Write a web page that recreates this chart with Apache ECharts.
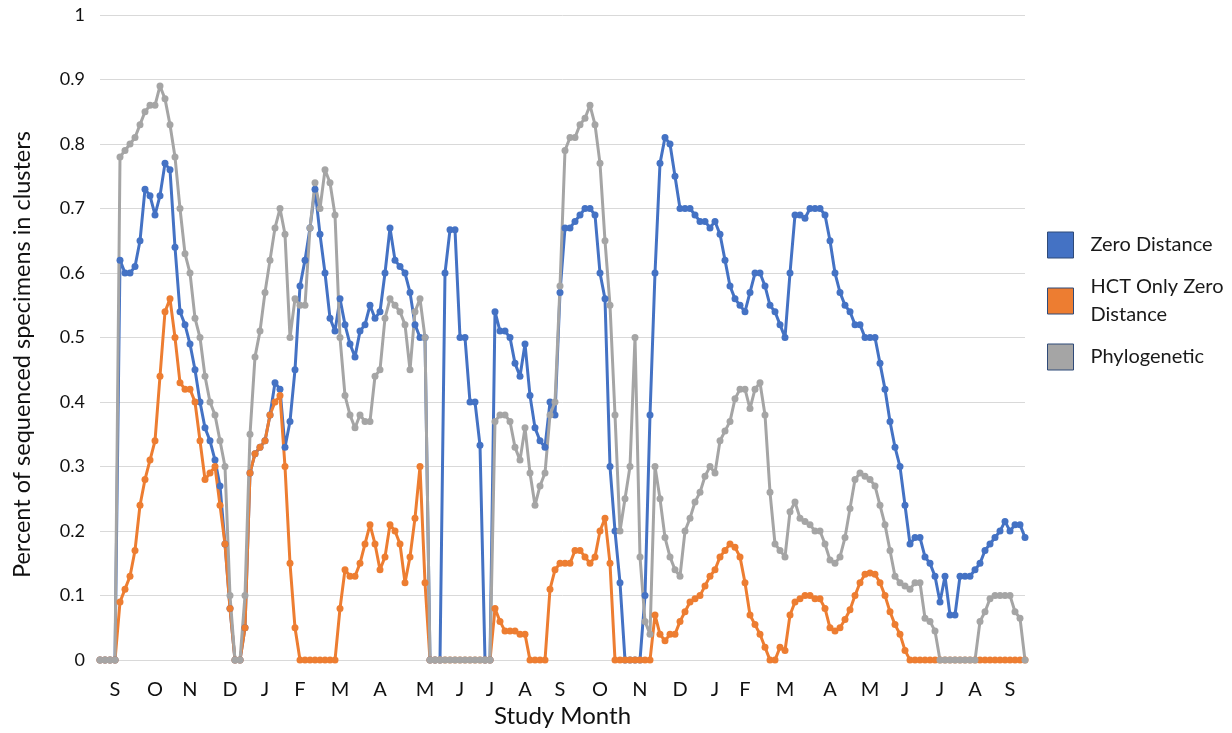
<!DOCTYPE html>
<html>
<head>
<meta charset="utf-8">
<script src="https://cdn.jsdelivr.net/npm/echarts@6/dist/echarts.min.js"></script>
<style>
  html, body { margin: 0; padding: 0; background: #fff; }
  #chart { width: 1232px; height: 733px; }
</style>
</head>
<body>
<div id="chart"></div>
<script>
// month letters and the sample index where each one sits
var months = ['S','O','N','D','J','F','M','A','M','J','J','A','S','O','N','D','J','F','M','A','M','J','J','A','S'];
var monthAt = [3, 11, 18, 26, 33, 40, 48, 56, 65, 72, 78, 85, 92, 100, 108, 116, 123, 129, 137, 146, 154, 161, 168, 175, 182];

var yTicks = [0, 0.1, 0.2, 0.3, 0.4, 0.5, 0.6, 0.7, 0.8, 0.9, 1];

var zeroDistance = [
  0, 0, 0, 0, 0.62, 0.6, 0.6, 0.61, 0.65, 0.73,
  0.72, 0.69, 0.72, 0.77, 0.76, 0.64, 0.54, 0.52, 0.49, 0.45,
  0.4, 0.36, 0.34, 0.31, 0.27, 0.18, 0.08, 0, 0, 0.05,
  0.29, 0.32, 0.33, 0.34, 0.38, 0.43, 0.42, 0.33, 0.37, 0.45,
  0.58, 0.62, 0.67, 0.73, 0.66, 0.6, 0.53, 0.51, 0.56, 0.52,
  0.49, 0.47, 0.51, 0.52, 0.55, 0.53, 0.54, 0.6, 0.67, 0.62,
  0.61, 0.6, 0.57, 0.52, 0.5, 0.5, 0, 0, 0, 0.6,
  0.667, 0.667, 0.5, 0.5, 0.4, 0.4, 0.333, 0, 0, 0.54,
  0.51, 0.51, 0.5, 0.46, 0.44, 0.49, 0.41, 0.36, 0.34, 0.33,
  0.4, 0.38, 0.57, 0.67, 0.67, 0.68, 0.69, 0.7, 0.7, 0.69,
  0.6, 0.56, 0.3, 0.2, 0.12, 0, 0, 0, 0, 0.1,
  0.38, 0.6, 0.77, 0.81, 0.8, 0.75, 0.7, 0.7, 0.7, 0.69,
  0.68, 0.68, 0.67, 0.68, 0.66, 0.62, 0.58, 0.56, 0.55, 0.54,
  0.57, 0.6, 0.6, 0.58, 0.55, 0.54, 0.52, 0.5, 0.6, 0.69,
  0.69, 0.685, 0.7, 0.7, 0.7, 0.69, 0.65, 0.6, 0.57, 0.55,
  0.54, 0.52, 0.52, 0.5, 0.5, 0.5, 0.46, 0.42, 0.37, 0.33,
  0.3, 0.24, 0.18, 0.19, 0.19, 0.16, 0.15, 0.13, 0.09, 0.13,
  0.07, 0.07, 0.13, 0.13, 0.13, 0.14, 0.15, 0.17, 0.18, 0.19,
  0.2, 0.215, 0.2, 0.21, 0.21, 0.19
];

var hctOnly = [
  0, 0, 0, 0, 0.09, 0.11, 0.13, 0.17, 0.24, 0.28,
  0.31, 0.34, 0.44, 0.54, 0.56, 0.5, 0.43, 0.42, 0.42, 0.4,
  0.34, 0.28, 0.29, 0.3, 0.24, 0.18, 0.08, 0, 0, 0.05,
  0.29, 0.32, 0.33, 0.34, 0.38, 0.4, 0.41, 0.3, 0.15, 0.05,
  0, 0, 0, 0, 0, 0, 0, 0, 0.08, 0.14,
  0.13, 0.13, 0.15, 0.18, 0.21, 0.18, 0.14, 0.16, 0.21, 0.2,
  0.18, 0.12, 0.16, 0.22, 0.3, 0.12, 0, 0, 0, 0,
  0, 0, 0, 0, 0, 0, 0, 0, 0, 0.08,
  0.06, 0.045, 0.045, 0.045, 0.04, 0.04, 0, 0, 0, 0,
  0.11, 0.14, 0.15, 0.15, 0.15, 0.17, 0.17, 0.16, 0.15, 0.16,
  0.2, 0.22, 0.15, 0, 0, 0, 0, 0, 0, 0,
  0, 0.07, 0.04, 0.03, 0.04, 0.04, 0.06, 0.075, 0.09, 0.095,
  0.1, 0.115, 0.13, 0.14, 0.16, 0.17, 0.18, 0.175, 0.16, 0.12,
  0.07, 0.055, 0.04, 0.02, 0, 0, 0.02, 0.015, 0.07, 0.09,
  0.095, 0.1, 0.1, 0.095, 0.095, 0.08, 0.05, 0.045, 0.05, 0.063,
  0.078, 0.1, 0.12, 0.133, 0.135, 0.133, 0.12, 0.1, 0.075, 0.055,
  0.04, 0.015, 0, 0, 0, 0, 0, 0, 0, 0,
  0, 0, 0, 0, 0, 0, 0, 0, 0, 0,
  0, 0, 0, 0, 0, 0
];

var phylogenetic = [
  0, 0, 0, 0, 0.78, 0.79, 0.8, 0.81, 0.83, 0.85,
  0.86, 0.86, 0.89, 0.87, 0.83, 0.78, 0.7, 0.63, 0.6, 0.53,
  0.5, 0.44, 0.4, 0.38, 0.34, 0.3, 0.1, 0, 0, 0.1,
  0.35, 0.47, 0.51, 0.57, 0.62, 0.67, 0.7, 0.66, 0.5, 0.56,
  0.55, 0.55, 0.67, 0.74, 0.7, 0.76, 0.74, 0.69, 0.5, 0.41,
  0.38, 0.36, 0.38, 0.37, 0.37, 0.44, 0.45, 0.53, 0.56, 0.55,
  0.54, 0.52, 0.45, 0.54, 0.56, 0.5, 0, 0, 0, 0,
  0, 0, 0, 0, 0, 0, 0, 0, 0, 0.37,
  0.38, 0.38, 0.37, 0.33, 0.31, 0.36, 0.29, 0.24, 0.27, 0.29,
  0.38, 0.4, 0.58, 0.79, 0.81, 0.81, 0.83, 0.84, 0.86, 0.83,
  0.77, 0.65, 0.55, 0.38, 0.2, 0.25, 0.3, 0.5, 0.16, 0.06,
  0.04, 0.3, 0.25, 0.19, 0.16, 0.14, 0.13, 0.2, 0.22, 0.245,
  0.26, 0.285, 0.3, 0.29, 0.34, 0.355, 0.37, 0.405, 0.42, 0.42,
  0.39, 0.42, 0.43, 0.38, 0.26, 0.18, 0.17, 0.16, 0.23, 0.245,
  0.22, 0.215, 0.21, 0.2, 0.2, 0.18, 0.155, 0.15, 0.16, 0.19,
  0.235, 0.28, 0.29, 0.285, 0.28, 0.27, 0.24, 0.21, 0.17, 0.13,
  0.12, 0.115, 0.11, 0.12, 0.12, 0.065, 0.06, 0.045, 0, 0,
  0, 0, 0, 0, 0, 0, 0.06, 0.075, 0.095, 0.1,
  0.1, 0.1, 0.1, 0.075, 0.065, 0
];

var seriesNames = ['Zero Distance', 'HCT Only Zero\nDistance', 'Phylogenetic'];
var seriesColors = ['#4472C4', '#ED7D31', '#A5A5A5'];

var font = 'Lato, "Open Sans", sans-serif';

var samples = [];
for (var i = 0; i < zeroDistance.length; i++) samples.push(String(i));

var labelAt = {};
for (var m = 0; m < months.length; m++) labelAt[monthAt[m]] = months[m];

function makeSeries(name, color, data) {
  return {
    name: name,
    type: 'line',
    data: data,
    color: color,
    symbol: 'circle',
    symbolSize: 7,
    showAllSymbol: true,
    lineStyle: { width: 3, color: color },
    itemStyle: { color: color },
    emphasis: { disabled: true }
  };
}

var chart = echarts.init(document.getElementById('chart'));
chart.setOption({
  animation: false,
  backgroundColor: '#fff',
  grid: { left: 100, right: 207, top: 15, bottom: 71 },
  legend: {
    orient: 'vertical',
    left: 1047,
    top: 231,
    padding: 0,
    itemWidth: 26,
    itemHeight: 26,
    itemGap: 14,
    icon: 'rect',
    itemStyle: { borderColor: '#2F4A78', borderWidth: 1 },
    textStyle: { fontFamily: font, fontSize: 20, color: '#1a1a1a', lineHeight: 28, padding: [0, 0, 0, 12] },
    data: seriesNames
  },
  xAxis: {
    type: 'category',
    data: samples,
    boundaryGap: false,
    axisLine: { lineStyle: { color: '#d9d9d9', width: 1 } },
    axisTick: { show: false },
    axisLabel: {
      interval: 0,
      margin: 19,
      fontFamily: font,
      fontSize: 20,
      color: '#111',
      formatter: function (v, idx) { return labelAt[idx] || ''; }
    },
    name: 'Study Month',
    nameLocation: 'middle',
    nameGap: 42,
    nameTextStyle: { fontFamily: font, fontSize: 24, color: '#111' }
  },
  yAxis: {
    type: 'value',
    min: yTicks[0],
    max: yTicks[yTicks.length - 1],
    interval: 0.1,
    axisLine: { show: false },
    axisTick: { show: false },
    splitLine: { lineStyle: { color: '#d9d9d9', width: 1 } },
    axisLabel: { fontFamily: font, fontSize: 18, color: '#111', margin: 15 },
    name: 'Percent of sequenced specimens in clusters',
    nameLocation: 'middle',
    nameRotate: 90,
    nameGap: 66,
    nameTextStyle: { fontFamily: font, fontSize: 23.5, color: '#111', padding: [0, 34, 0, 0] }
  },
  series: [
    makeSeries(seriesNames[0], seriesColors[0], zeroDistance),
    makeSeries(seriesNames[1], seriesColors[1], hctOnly),
    makeSeries(seriesNames[2], seriesColors[2], phylogenetic)
  ]
});
</script>
</body>
</html>
